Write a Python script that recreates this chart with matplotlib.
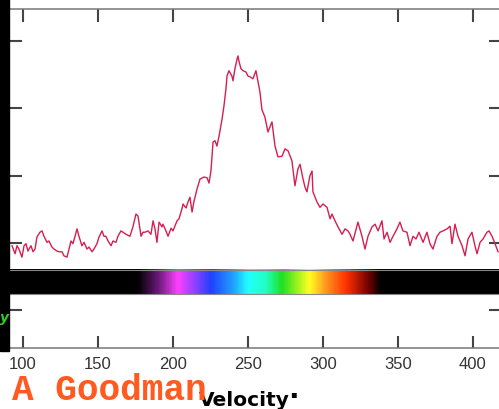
import numpy as np
import matplotlib
matplotlib.use("Agg")
import matplotlib.pyplot as plt
from matplotlib.colors import LinearSegmentedColormap
from matplotlib.patches import Rectangle

# spectrum: velocity (km/s) and intensity (tick units)
velocity = [92.7, 94.0, 94.7, 96.0, 97.3, 99.3, 100.7, 102.0, 103.3, 105.3,
            106.7, 108.0, 109.3, 111.3, 112.7, 114.0, 116.0, 117.3, 119.3, 120.7,
            122.7, 124.0, 126.0, 127.3, 129.3, 130.7, 132.0, 133.3, 134.7, 136.0,
            137.3, 139.3, 140.7, 142.7, 144.0, 146.0, 147.3, 149.3, 150.7, 152.7,
            154.0, 155.3, 156.7, 158.7, 160.0, 162.0, 163.3, 165.3, 166.7, 168.7,
            171.3, 173.3, 175.3, 176.7, 178.7, 180.0, 181.3, 183.3, 185.3, 186.7,
            188.0, 189.3, 190.7, 192.7, 193.3, 195.3, 196.7, 198.7, 200.0, 202.7,
            204.0, 206.0, 206.7, 208.7, 210.0, 211.3, 212.7, 214.0, 216.0, 218.0,
            220.7, 222.7, 224.0, 225.3, 226.7, 228.0, 229.3, 230.7, 232.7, 234.0,
            235.3, 236.0, 237.3, 239.3, 240.0, 241.3, 242.7, 243.3, 244.0, 245.3,
            246.7, 248.7, 250.0, 251.3, 253.3, 255.3, 256.7, 258.0, 259.3, 261.3,
            263.3, 266.0, 268.0, 270.0, 272.7, 274.7, 276.7, 279.3, 281.3, 283.3,
            284.7, 286.7, 288.0, 289.3, 291.3, 292.7, 293.3, 296.0, 298.0, 300.0,
            302.7, 304.7, 306.0, 308.0, 310.0, 312.7, 314.7, 316.7, 318.0, 320.0,
            323.3, 326.0, 328.0, 330.0, 332.7, 334.7, 336.7, 339.3, 340.7, 342.7,
            344.7, 346.7, 349.3, 351.3, 353.3, 356.0, 358.0, 360.0, 362.0, 364.0,
            366.7, 369.3, 371.3, 373.3, 376.0, 378.0, 380.0, 382.7, 384.7, 386.0,
            388.0, 390.0, 392.7, 394.7, 396.7, 399.3, 401.3, 402.7, 404.7, 406.7,
            409.3, 410.7, 412.7, 414.7, 416.7]
intensity = [-0.04, -0.12, -0.16, -0.04, -0.09, -0.21, -0.04, -0.01, -0.12, -0.04,
             -0.13, -0.09, 0.09, 0.16, 0.18, 0.10, 0.01, 0.03, -0.06, -0.09,
             -0.12, -0.13, -0.13, -0.19, -0.21, -0.09, 0.03, -0.01, 0.10, 0.21,
             0.10, -0.04, 0.01, -0.09, -0.06, -0.13, -0.09, -0.01, 0.09, 0.18,
             0.10, 0.10, 0.03, -0.04, 0.03, 0.01, 0.10, 0.18, 0.16, 0.13,
             0.10, 0.24, 0.43, 0.40, 0.10, 0.16, 0.16, 0.18, 0.13, 0.33,
             0.21, 0.01, 0.31, 0.24, 0.28, 0.18, 0.10, 0.22, 0.18, 0.33,
             0.36, 0.51, 0.58, 0.52, 0.61, 0.68, 0.46, 0.62, 0.80, 0.95,
             0.98, 0.97, 0.89, 1.07, 1.50, 1.52, 1.44, 1.59, 1.84, 2.04,
             2.29, 2.48, 2.56, 2.48, 2.41, 2.59, 2.73, 2.78, 2.70, 2.59,
             2.56, 2.54, 2.48, 2.47, 2.44, 2.56, 2.39, 2.24, 1.98, 1.87,
             1.65, 1.80, 1.44, 1.28, 1.29, 1.40, 1.37, 1.22, 0.85, 1.10,
             1.17, 0.95, 0.83, 0.76, 1.00, 1.07, 0.76, 0.61, 0.53, 0.58,
             0.53, 0.36, 0.43, 0.33, 0.24, 0.13, 0.21, 0.18, 0.13, 0.03,
             0.31, 0.10, -0.09, 0.10, 0.24, 0.28, 0.18, 0.33, 0.06, 0.16,
             0.01, 0.10, 0.21, 0.31, 0.18, 0.16, -0.04, 0.10, 0.06, 0.16,
             0.01, 0.16, -0.01, -0.09, 0.10, 0.16, 0.18, 0.21, 0.25, -0.01,
             0.28, 0.10, -0.04, -0.19, 0.06, 0.16, -0.04, -0.16, 0.01, 0.06,
             0.16, 0.18, 0.10, -0.01, -0.13]

# colour strip under the spectrum
strip_vel = [176, 190, 203, 216, 225, 240, 250, 262, 273, 291, 303, 316, 331, 339]
strip_colors = ["#000000", "#6a1a7a", "#ff40ff", "#8040ff", "#2040ff", "#20a0ff",
                "#20ffff", "#20ffc0", "#20e020", "#ffff20", "#ff9020", "#ff3000",
                "#700000", "#000000"]

xticks = [100, 150, 200, 250, 300, 350, 400]
yticks = [-1, 0, 1, 2, 3]

W, H = 499, 410
fig = plt.figure(figsize=(W / 100, H / 100), dpi=100)
ax = fig.add_axes([9 / W, 1 - 349 / H, 492 / W, 339 / H])
ax.set_xlim(90.67, 418.67)
ax.set_ylim(-1.56, 3.477)

ax.plot(velocity, intensity, color="#d61e50", lw=1.0, zorder=3)

# colour strip
vmin, vmax = ax.get_xlim()
pos = [(v - vmin) / (vmax - vmin) for v in strip_vel]
pos = [0.0] + pos + [1.0]
cols = [strip_colors[0]] + strip_colors + [strip_colors[-1]]
cmap = LinearSegmentedColormap.from_list("strip", list(zip(pos, cols)))
grad = np.linspace(0, 1, 600)[None, :]
ax.imshow(grad, cmap=cmap, aspect="auto", extent=[vmin, vmax, -0.76, -0.40],
          zorder=2, interpolation="bilinear")
ax.axhline(-0.40, color="#888888", lw=0.8, zorder=2.5)
ax.axhline(-0.76, color="#888888", lw=0.8, zorder=2.5)

ax.set_xticks(xticks)
ax.set_yticks(yticks)
ax.tick_params(direction="in", top=True, right=True, length=9, width=1.5,
               color="#444444", labelsize=12, labelcolor="#333333", pad=6,
               labelleft=False)
for s in ["top", "bottom", "left", "right"]:
    ax.spines[s].set_color("#777777")
    ax.spines[s].set_linewidth(1.1)
for lab in ax.get_xticklabels():
    lab.set_fontfamily("Liberation Sans")

# black bar on the left edge
fig.add_artist(Rectangle((0, 1 - 352 / H), 9 / W, 352 / H, transform=fig.transFigure,
                         color="black", zorder=10))
fig.text(0, 1 - 322 / H, "y", color="#30d020", fontsize=10, fontweight="bold",
         fontstyle="italic", zorder=11)

fig.text(199 / W, 1 - 406 / H, "Velocity", fontsize=14.5, fontweight="bold",
         color="black", family="DejaVu Sans", va="baseline")
fig.text(290 / W, 1 - 397 / H, "\u25aa", fontsize=7, color="black", va="baseline")
fig.text(12 / W, 1 - 400 / H, "A Goodman", fontsize=26, fontweight="bold",
         color="#ff5a1f", family="Liberation Mono", va="baseline", zorder=12)

fig.savefig("out.png", dpi=100)
